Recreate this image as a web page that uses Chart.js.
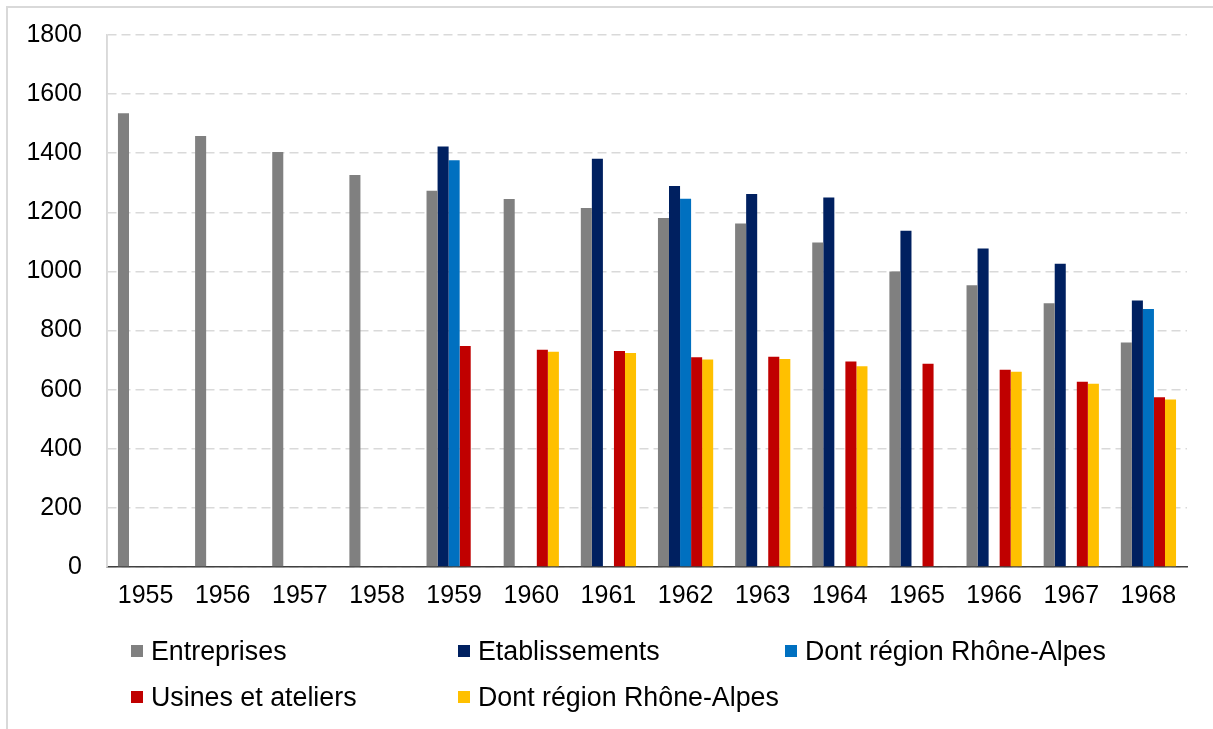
<!DOCTYPE html>
<html>
<head>
<meta charset="utf-8">
<script src="https://cdn.jsdelivr.net/npm/chart.js@4"></script>
<style>
  html, body { margin: 0; padding: 0; background: #fff; overflow: hidden; }
  #wrap { position: relative; width: 1213px; height: 729px; }
  #frame { position: absolute; left: 6px; top: 6px; width: 1220px; height: 740px;
           border-left: 2px solid #d9d9d9; border-top: 2px solid #d9d9d9; }
  #legend { position: absolute; left: 0; top: 0; width: 100%; height: 100%; pointer-events: none;
            font-family: "Liberation Sans", Arial, sans-serif; font-size: 26.8px; color: #000; }
  .lg { position: absolute; display: flex; align-items: center; white-space: nowrap; }
  .lg i { display: inline-block; width: 12px; height: 12px; margin-right: 8px; }
</style>
</head>
<body>
<div id="wrap">
  <div id="frame"></div>
  <canvas id="c" width="1213" height="729"></canvas>
  <div id="legend"></div>
</div>
<script>
// ── data ──────────────────────────────────────────────
const years = ['1955','1956','1957','1958','1959','1960','1961','1962','1963','1964','1965','1966','1967','1968'];
const entreprises   = [1535, 1458, 1404, 1326, 1273, 1245, 1215, 1181, 1162, 1098, 1000, 953, 892, 760];
const etablissements = [null, null, null, null, 1423, null, 1381, 1289, 1262, 1250, 1138, 1078, 1026, 902];
const etabRhone     = [null, null, null, null, 1376, null, null, 1246, null, null, null, null, null, 873];
const usines        = [null, null, null, null, 748, 735, 731, 710, 711, 695, 688, 667, 627, 574];
const usinesRhone   = [null, null, null, null, null, 728, 724, 702, 704, 679, null, 661, 620, 567];

const series = [
  {label: 'Entreprises',             data: entreprises,    color: '#808080'},
  {label: 'Etablissements',          data: etablissements, color: '#002060'},
  {label: 'Dont région Rhône-Alpes', data: etabRhone,      color: '#0070C0'},
  {label: 'Usines et ateliers',      data: usines,         color: '#C00000'},
  {label: 'Dont région Rhône-Alpes', data: usinesRhone,    color: '#FFC000'},
];

const FONT = '"Liberation Sans", Arial, sans-serif';

new Chart(document.getElementById('c').getContext('2d'), {
  type: 'bar',
  data: {
    labels: years,
    datasets: series.map(s => ({
      label: s.label, data: s.data,
      backgroundColor: s.color, borderWidth: 0,
      categoryPercentage: 0.716, barPercentage: 1,
    })),
  },
  options: {
    responsive: false, animation: false,
    layout: {padding: {top: 35, right: 26, bottom: 112, left: 0}},
    plugins: {legend: {display: false}, tooltip: {enabled: false}},
    scales: {
      x: {
        grid: {display: false, drawTicks: false},
        border: {display: true, color: '#404040', width: 1.5},
        ticks: {color: '#000', font: {family: FONT, size: 25}, padding: 14, maxRotation: 0},
        afterFit: s => { s.height = 50; },
      },
      y: {
        min: 0, max: 1800,
        // offset labels via an invisible tick length (ticks.padding would also push the plot top down)
        ticks: {stepSize: 200, color: '#000', font: {family: FONT, size: 25}, padding: 0,
                callback: v => String(v)},
        grid: {color: '#d9d9d9', lineWidth: 1.5, drawTicks: true, tickLength: 25, tickColor: 'rgba(0,0,0,0)'},
        border: {display: true, color: '#d9d9d9', width: 1.5, dash: [9, 5]},
        afterFit: s => { s.width = 107; },
      },
    },
  },
  plugins: [{
    // solid left axis line (the border dash above applies to grid lines)
    id: 'leftAxis',
    afterDatasetsDraw(chart) {
      const {ctx, chartArea: a} = chart;
      ctx.save();
      ctx.strokeStyle = '#d9d9d9'; ctx.lineWidth = 1.5; ctx.setLineDash([]);
      ctx.beginPath(); ctx.moveTo(a.left, a.top); ctx.lineTo(a.left, a.bottom); ctx.stroke();
      ctx.restore();
    },
  }],
});

// HTML legend in a 3-column grid
const legPos = [[131, 651], [458, 651], [785, 651], [131, 697], [458, 697]];
document.getElementById('legend').innerHTML = series.map((s, i) =>
  `<div class="lg" style="left:${legPos[i][0]}px;top:${legPos[i][1] - 16}px;height:32px">
     <i style="background:${s.color}"></i>${s.label}</div>`).join('');
</script>
</body>
</html>
